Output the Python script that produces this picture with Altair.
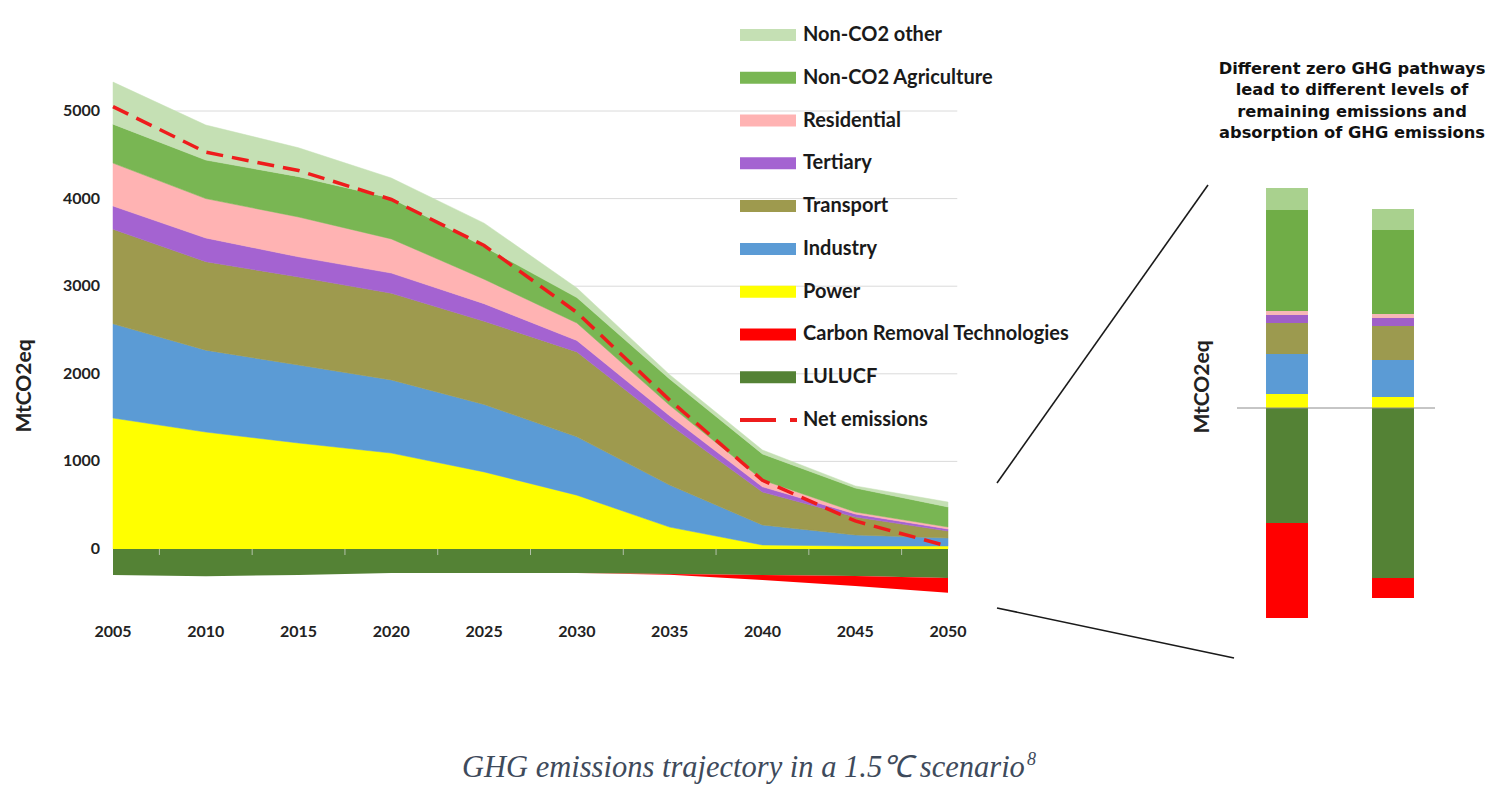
import altair as alt
import pandas as pd

# ---------------- data ----------------
years = [2005, 2010, 2015, 2020, 2025, 2030, 2035, 2040, 2045, 2050]
power = [1495, 1335, 1210, 1095, 880, 615, 250, 46, 34, 34]
industry = [1075, 935, 890, 835, 770, 665, 480, 228, 126, 91]
transport = [1080, 1010, 1005, 990, 950, 970, 690, 376, 205, 80]
tertiary = [265, 270, 230, 230, 200, 130, 100, 60, 35, 23]
residential = [490, 450, 455, 390, 280, 200, 120, 78, 22, 23]
agriculture = [445, 440, 460, 465, 370, 290, 300, 297, 274, 229]
other = [480, 400, 330, 230, 270, 110, 50, 45, 24, 56]
lulucf = [-297, -310, -297, -274, -274, -274, -285, -297, -308, -330]
crt = [0, 0, 0, 0, 0, 0, -10, -57, -114, -170]
net = [5050, 4530, 4320, 3990, 3465, 2700, 1700, 785, 320, 30]

y_ticks = [0, 1000, 2000, 3000, 4000, 5000]
grid_ticks = [1000, 2000, 3000, 4000, 5000]
minor_x = [2007.5, 2012.5, 2017.5, 2022.5, 2027.5, 2032.5, 2037.5, 2042.5, 2047.5]

sectors = ["Power", "Industry", "Transport", "Tertiary", "Residential",
           "Non-CO2 Agriculture", "Non-CO2 other", "LULUCF",
           "Carbon Removal Technologies"]
area_colors = ["#ffff00", "#5b9bd5", "#9e9a4e", "#a463d1", "#ffb3b3",
               "#79b653", "#c5e0b4", "#548235", "#ff0000"]

legend_items = ["Non-CO2 other", "Non-CO2 Agriculture", "Residential", "Tertiary",
                "Transport", "Industry", "Power", "Carbon Removal Technologies",
                "LULUCF", "Net emissions"]

pathways = ["Pathway 1", "Pathway 2"]
bar_power = [140, 110]
bar_industry = [400, 370]
bar_transport = [310, 340]
bar_tertiary = [80, 80]
bar_residential = [40, 40]
bar_agriculture = [1010, 840]
bar_other = [220, 210]
bar_lulucf = [-1150, -1700]
bar_crt = [-950, -200]
bar_colors = ["#ffff00", "#5b9bd5", "#9c9a4f", "#a05fc8", "#f7b7b7",
              "#70ad47", "#a9d18e", "#548235", "#ff0000"]

right_title = ("Different zero GHG pathways\nlead to different levels of\n"
               "remaining emissions and\nabsorption of GHG emissions")
caption = "GHG emissions trajectory in a 1.5\u2103 scenario"

# ---------------- tables ----------------
pos_series = [power, industry, transport, tertiary, residential, agriculture, other]
area_df = pd.DataFrame([
    {"year": yr, "sector": s, "value": vals[i], "rank": k}
    for k, (s, vals) in enumerate(zip(sectors[:7], pos_series))
    for i, yr in enumerate(years)
])
neg_df = pd.DataFrame({"year": years, "lulucf": lulucf, "crt": crt})
net_df = pd.DataFrame({"year": years, "net": net})
grid_df = pd.DataFrame({"v": grid_ticks, "x0": 2005, "x1": 2050.5})
ylab_df = pd.DataFrame({"v": y_ticks, "label": [str(v) for v in y_ticks]})
xlab_df = pd.DataFrame({"year": years, "label": [str(y) for y in years]})
minor_df = pd.DataFrame({"year": minor_x, "v": 0})

bar_series = [bar_power, bar_industry, bar_transport, bar_tertiary, bar_residential,
              bar_agriculture, bar_other, bar_lulucf, bar_crt]
bar_df = pd.DataFrame([
    {"pathway": p, "sector": s, "value": vals[j], "rank": k}
    for k, (s, vals) in enumerate(zip(sectors, bar_series))
    for j, p in enumerate(pathways)
])

leg_df = pd.DataFrame({"item": legend_items})

# ---------------- scales ----------------
FONT = "Lato"
x_main = alt.Scale(domain=[2005, 2050], range=[105, 940], nice=False, zero=False)
y_main = alt.Scale(domain=[0, 5000], range=[541, 103], nice=False, zero=False)
leg_scale = alt.Scale(type="point", domain=legend_items, range=[27, 412], padding=0)
bx = alt.Scale(domain=pathways, range=[1226, 1438], paddingInner=0.604, paddingOuter=0.302)
by = alt.Scale(domain=[0, 1000], range=[400, 300], nice=False, zero=False)

# ---------------- main chart ----------------
grid = alt.Chart(grid_df).mark_rule(color="#dadada", strokeWidth=1).encode(
    x=alt.X("x0:Q", scale=x_main, axis=None), x2="x1:Q",
    y=alt.Y("v:Q", scale=y_main, axis=None))

areas = alt.Chart(area_df).mark_area(opacity=1, strokeWidth=0.5).encode(
    x=alt.X("year:Q", scale=x_main, axis=None),
    y=alt.Y("value:Q", stack="zero", scale=y_main, axis=None),
    color=alt.Color("sector:N", scale=alt.Scale(domain=sectors, range=area_colors), legend=None),
    stroke=alt.Stroke("sector:N", scale=alt.Scale(domain=sectors, range=area_colors), legend=None),
    order=alt.Order("rank:Q", sort="ascending"))

lulucf_area = alt.Chart(neg_df).transform_calculate(zero="0").mark_area(
    color="#548235", opacity=1).encode(
    x=alt.X("year:Q", scale=x_main, axis=None),
    y=alt.Y("lulucf:Q", scale=y_main, axis=None), y2="zero:Q")

crt_area = alt.Chart(neg_df).transform_calculate(
    bottom="datum.lulucf + datum.crt").mark_area(color="#ff0000", opacity=1).encode(
    x=alt.X("year:Q", scale=x_main, axis=None),
    y=alt.Y("bottom:Q", scale=y_main, axis=None), y2="lulucf:Q")

minor = alt.Chart(minor_df).mark_tick(orient="vertical", size=6, thickness=1,
                                      color="#dcdcdc", yOffset=3).encode(
    x=alt.X("year:Q", scale=x_main, axis=None),
    y=alt.Y("v:Q", scale=y_main, axis=None))

net_line = alt.Chart(net_df).mark_line(color="#ee1c1c", strokeWidth=3.5,
                                       strokeDash=[17, 9]).encode(
    x=alt.X("year:Q", scale=x_main, axis=None),
    y=alt.Y("net:Q", scale=y_main, axis=None))

ylabels = alt.Chart(ylab_df).mark_text(align="right", baseline="middle", font=FONT,
                                       fontWeight="bold", fontSize=16, color="#222222").encode(
    x=alt.value(92), y=alt.Y("v:Q", scale=y_main, axis=None), text="label:N")

xlabels = alt.Chart(xlab_df).mark_text(align="center", baseline="middle", font=FONT,
                                       fontWeight="bold", fontSize=16, color="#222222").encode(
    x=alt.X("year:Q", scale=x_main, axis=None), y=alt.value(624), text="label:N")

ytitle = alt.Chart(pd.DataFrame({"t": ["MtCO2eq"]})).mark_text(
    angle=270, align="center", baseline="middle", font=FONT, fontWeight="bold",
    fontSize=21, color="#222222").encode(x=alt.value(17), y=alt.value(378), text="t:N")

# ---------------- legend ----------------
swatch = alt.Chart(leg_df).transform_filter(alt.datum.item != "Net emissions").mark_rule(
    strokeWidth=12, strokeCap="butt").encode(
    x=alt.value(732), x2=alt.value(788),
    y=alt.Y("item:N", scale=leg_scale, axis=None),
    color=alt.Color("item:N", scale=alt.Scale(domain=sectors, range=area_colors), legend=None))

net_swatch = alt.Chart(leg_df).transform_filter(alt.datum.item == "Net emissions").mark_rule(
    strokeWidth=4, color="#ee1c1c", strokeDash=[36, 14, 7, 40]).encode(
    x=alt.value(732), x2=alt.value(790),
    y=alt.Y("item:N", scale=leg_scale, axis=None))

leg_text = alt.Chart(leg_df).mark_text(align="left", baseline="middle", font=FONT,
                                       fontWeight="bold", fontSize=20, color="#1a1a1a").encode(
    x=alt.value(795), y=alt.Y("item:N", scale=leg_scale, axis=None), text="item:N")

# ---------------- connectors ----------------
conn_df = pd.DataFrame({"k": ["up", "down"]})
conn_up = alt.Chart(conn_df).transform_filter(alt.datum.k == "up").mark_rule(
    color="#1a1a1a", strokeWidth=1.6).encode(
    x=alt.value(989), y=alt.value(475), x2=alt.value(1200), y2=alt.value(177))
conn_down = alt.Chart(conn_df).transform_filter(alt.datum.k == "down").mark_rule(
    color="#1a1a1a", strokeWidth=1.6).encode(
    x=alt.value(989), y=alt.value(600), x2=alt.value(1226), y2=alt.value(650))

# ---------------- right bars ----------------
bars = alt.Chart(bar_df).mark_bar().encode(
    x=alt.X("pathway:N", scale=bx, axis=None),
    y=alt.Y("value:Q", stack="zero", scale=by, axis=None),
    color=alt.Color("sector:N", scale=alt.Scale(domain=sectors, range=bar_colors), legend=None),
    order=alt.Order("rank:Q", sort="ascending"))

bar_zero = alt.Chart(pd.DataFrame({"v": [0]})).mark_rule(color="#8c8c8c", strokeWidth=1).encode(
    x=alt.value(1229), x2=alt.value(1427), y=alt.Y("v:Q", scale=by, axis=None))

bar_ytitle = alt.Chart(pd.DataFrame({"t": ["MtCO2eq"]})).mark_text(
    angle=270, align="center", baseline="middle", font=FONT, fontWeight="bold",
    fontSize=21, color="#222222").encode(x=alt.value(1195), y=alt.value(379), text="t:N")

bar_title = alt.Chart(pd.DataFrame({"t": [right_title]})).mark_text(
    align="center", baseline="top", lineBreak="\n", lineHeight=21.3,
    font="DejaVu Sans", fontWeight="bold", fontSize=16.3, color="#111111").encode(
    x=alt.value(1344), y=alt.value(53), text="t:N")

# ---------------- caption ----------------
cap = alt.Chart(pd.DataFrame({"t": [caption]})).mark_text(
    align="left", baseline="alphabetic", font="Liberation Serif", fontStyle="italic",
    fontSize=30.5, color="#3e4a5b").encode(x=alt.value(454), y=alt.value(769), text="t:N")
sup = alt.Chart(pd.DataFrame({"t": ["8"]})).mark_text(
    align="left", baseline="alphabetic", font="Liberation Serif", fontStyle="italic",
    fontSize=18, color="#3e4a5b").encode(x=alt.value(1019), y=alt.value(757), text="t:N")

chart = alt.layer(
    grid, areas, lulucf_area, crt_area, minor, net_line, ylabels, xlabels, ytitle,
    swatch, net_swatch, leg_text, conn_up, conn_down,
    bars, bar_zero, bar_ytitle, bar_title, cap, sup
).resolve_scale(
    x="independent", y="independent", color="independent", stroke="independent"
).properties(
    width=1483, height=778, padding=0, background="white",
    autosize=alt.AutoSizeParams(type="none")
).configure_view(strokeWidth=0)

chart.save("out.html", embed_options={"renderer": "svg", "actions": False})
